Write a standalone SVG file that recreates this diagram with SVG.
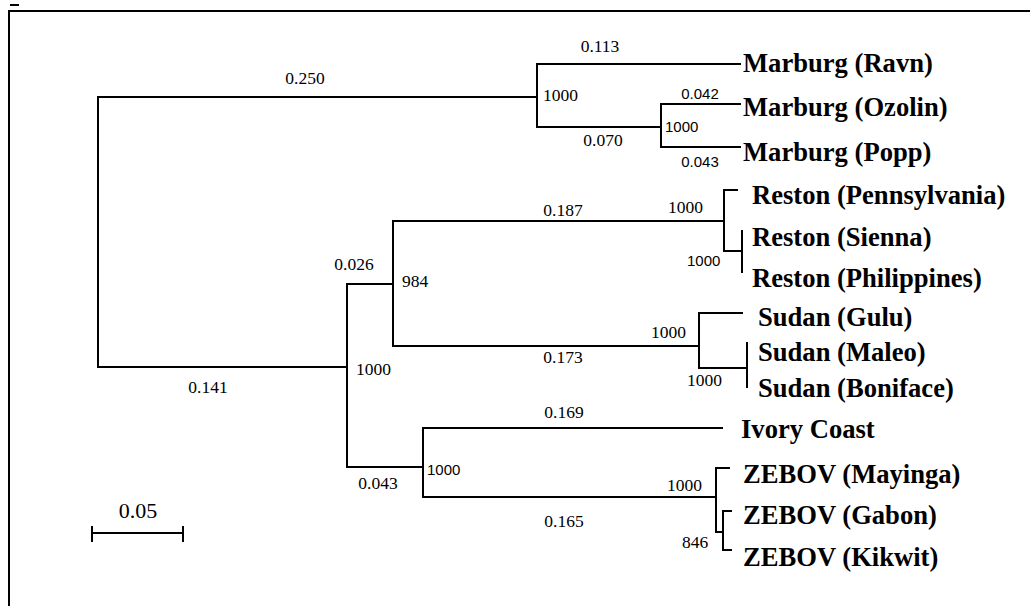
<svg xmlns="http://www.w3.org/2000/svg" width="1030" height="606" viewBox="0 0 1030 606">
<style>
.ln{stroke:#000;stroke-width:2;fill:none;stroke-linecap:square}
.leaf{font-family:"Liberation Serif","Times New Roman",serif;font-weight:bold;font-size:26.6px;fill:#000}
.bl{font-family:"Liberation Serif","Times New Roman",serif;font-size:17.5px;fill:#000}
.bs{font-family:"Liberation Sans",Arial,sans-serif;font-size:15px;fill:#000}
.bm{text-anchor:middle}
</style>
<rect x="0" y="0" width="1030" height="606" fill="#fff"/>
<g id="frame">
<path class="ln" d="M9,606 V11 H1030"/>
<path d="M10,5 H19" stroke="#000" stroke-width="2"/>
</g>
<g id="connectors">
<path class="ln" d="M98,97 V367"/>
<path class="ln" d="M98,97 H537"/>
<path class="ln" d="M98,367 H347"/>
<path class="ln" d="M537,64 V127"/>
<path class="ln" d="M537,64 H740"/>
<path class="ln" d="M537,127 H661"/>
<path class="ln" d="M661,104 V147"/>
<path class="ln" d="M661,104 H740"/>
<path class="ln" d="M661,147 H740"/>
<path class="ln" d="M347,284 V467"/>
<path class="ln" d="M347,284 H393"/>
<path class="ln" d="M347,467 H423"/>
<path class="ln" d="M393,221 V346"/>
<path class="ln" d="M393,221 H724"/>
<path class="ln" d="M724,190 V251"/>
<path class="ln" d="M724,190 H737"/>
<path class="ln" d="M724,251 H742"/>
<path class="ln" d="M742,231 V272"/>
<path class="ln" d="M393,346 H699"/>
<path class="ln" d="M699,313 V368"/>
<path class="ln" d="M699,313 H742"/>
<path class="ln" d="M699,368 H747"/>
<path class="ln" d="M747,343 V387"/>
<path class="ln" d="M423,428 V497"/>
<path class="ln" d="M423,428 H722"/>
<path class="ln" d="M423,497 H716"/>
<path class="ln" d="M716,468 V532"/>
<path class="ln" d="M716,468 H729"/>
<path class="ln" d="M716,532 H723"/>
<path class="ln" d="M723,511 V550"/>
<path class="ln" d="M723,511 H731"/>
<path class="ln" d="M723,550 H731"/>
</g>
<g id="branch-labels">
<text class="bl bm" x="305" y="84">0.250</text>
<text class="bl bm" x="600" y="52">0.113</text>
<text class="bl" x="543" y="101">1000</text>
<text class="bl bm" x="603" y="146">0.070</text>
<text class="bs bm" x="700" y="99">0.042</text>
<text class="bs" x="665" y="132">1000</text>
<text class="bs bm" x="700" y="167">0.043</text>
<text class="bl bm" x="563" y="216">0.187</text>
<text class="bl" x="668" y="213">1000</text>
<text class="bs" x="687" y="266">1000</text>
<text class="bl bm" x="354" y="270">0.026</text>
<text class="bl" x="402" y="287">984</text>
<text class="bl" x="651" y="338">1000</text>
<text class="bl bm" x="563" y="363">0.173</text>
<text class="bl" x="687" y="386">1000</text>
<text class="bl" x="356" y="375">1000</text>
<text class="bl bm" x="208" y="393">0.141</text>
<text class="bl bm" x="564" y="418">0.169</text>
<text class="bs" x="427" y="475">1000</text>
<text class="bl bm" x="378" y="489">0.043</text>
<text class="bl" x="667" y="491">1000</text>
<text class="bl bm" x="564" y="527">0.165</text>
<text class="bl" x="682" y="548">846</text>
</g>
<g id="scale-bar">
<path class="ln" d="M92,533 H183 M92,527 V541 M183,527 V541"/>
<text class="bl bm" x="138" y="518" style="font-size:22px">0.05</text>
</g>
<g id="marburg-ravn"><text class="leaf" x="743" y="72">Marburg (Ravn)</text></g>
<g id="marburg-ozolin"><text class="leaf" x="743" y="116">Marburg (Ozolin)</text></g>
<g id="marburg-popp"><text class="leaf" x="743" y="161">Marburg (Popp)</text></g>
<g id="reston-pennsylvania"><text class="leaf" x="752" y="204">Reston (Pennsylvania)</text></g>
<g id="reston-sienna"><text class="leaf" x="752" y="246">Reston (Sienna)</text></g>
<g id="reston-philippines"><text class="leaf" x="752" y="287">Reston (Philippines)</text></g>
<g id="sudan-gulu"><text class="leaf" x="758" y="326">Sudan (Gulu)</text></g>
<g id="sudan-maleo"><text class="leaf" x="758" y="361">Sudan (Maleo)</text></g>
<g id="sudan-boniface"><text class="leaf" x="758" y="397">Sudan (Boniface)</text></g>
<g id="ivory-coast"><text class="leaf" x="741" y="438">Ivory Coast</text></g>
<g id="zebov-mayinga"><text class="leaf" x="743" y="483">ZEBOV (Mayinga)</text></g>
<g id="zebov-gabon"><text class="leaf" x="743" y="524">ZEBOV (Gabon)</text></g>
<g id="zebov-kikwit"><text class="leaf" x="743" y="566">ZEBOV (Kikwit)</text></g>
</svg>
